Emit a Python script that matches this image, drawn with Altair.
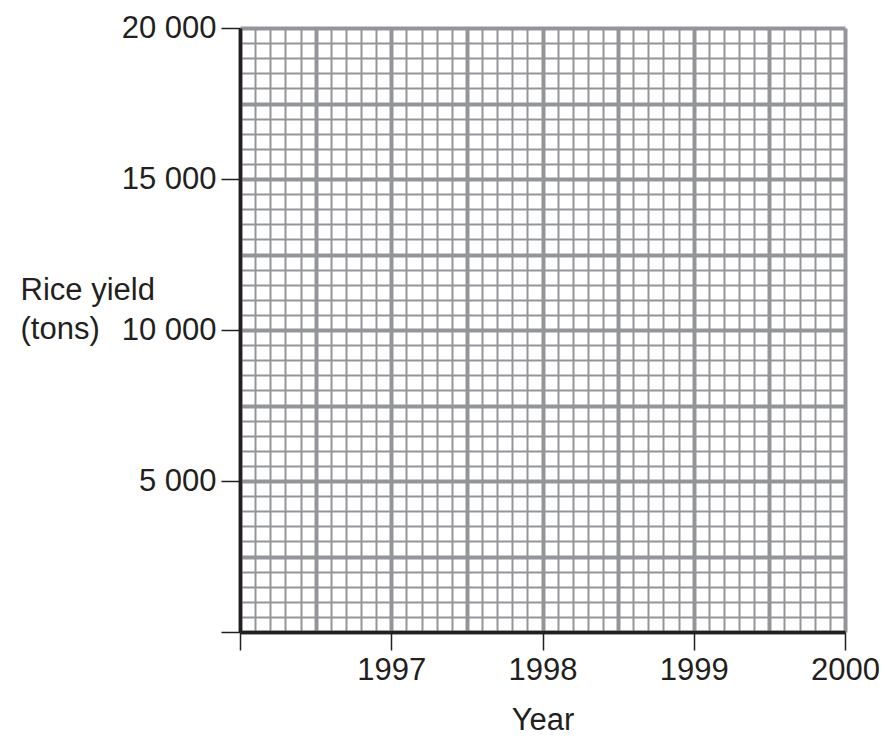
import altair as alt
import pandas as pd

# Axis content
years = [1996, 1997, 1998, 1999, 2000]
year_labels = ["", "1997", "1998", "1999", "2000"]
yield_ticks = [0, 5000, 10000, 15000, 20000]
yield_labels = ["", "5 000", "10 000", "15 000", "20 000"]

# Graph-paper grid spacing
x_minor_step = 0.1
x_major_step = 0.5
y_minor_step = 500
y_major_step = 2500

x_grid = [round(years[0] + i * x_minor_step, 1) for i in range(int((years[-1] - years[0]) / x_minor_step) + 1)]
y_grid = [i * y_minor_step for i in range(int(yield_ticks[-1] / y_minor_step) + 1)]

# empty chart: a single invisible anchor point
df = pd.DataFrame({"year": [years[0]], "rice": [yield_ticks[0]]})

FONT = "Liberation Sans"
FS = 31
INK = "#231f20"
GRID = "#939598"

x_label_map = "{" + ",".join(f"'{y}':'{l}'" for y, l in zip(years, year_labels)) + "}"
y_label_map = "{" + ",".join(f"'{v}':'{l}'" for v, l in zip(yield_ticks, yield_labels)) + "}"

x_major_test = f"abs(datum.value/{x_major_step} - round(datum.value/{x_major_step})) < 1e-6"
x_tick_test = "abs(datum.value - round(datum.value)) < 1e-6"
y_major_test = f"datum.value % {y_major_step} === 0"
y_tick_test = "datum.value % 5000 === 0"

x_axis = alt.Axis(
    values=x_grid,
    grid=True,
    gridColor=GRID,
    gridWidth={"condition": {"test": x_major_test, "value": 4}, "value": 2},
    domainColor=INK,
    domainWidth=3.5,
    tickColor=INK,
    tickWidth=1.5,
    tickSize=18,
    tickOpacity={"condition": {"test": x_tick_test, "value": 1}, "value": 0},
    labelExpr=f"{x_tick_test} ? ({x_label_map})[format(round(datum.value),'d')] : ''",
    labelFont=FONT,
    labelFontSize=FS,
    labelColor=INK,
    labelPadding=5,
    labelFlush=False,
    labelOverlap=False,
    labelBound=False,
    title="Year",
    titleFont=FONT,
    titleFontSize=FS,
    titleFontWeight="normal",
    titleColor=INK,
    titleBaseline="alphabetic",
    titleY=97,
)

y_axis = alt.Axis(
    values=y_grid,
    grid=True,
    gridColor=GRID,
    gridWidth={"condition": {"test": y_major_test, "value": 4}, "value": 2},
    domainColor=INK,
    domainWidth=3.5,
    tickColor=INK,
    tickWidth=1.5,
    tickSize=19,
    tickOpacity={"condition": {"test": y_tick_test, "value": 1}, "value": 0},
    labelExpr=f"{y_tick_test} ? ({y_label_map})[format(datum.value,'d')] : ''",
    labelFont=FONT,
    labelFontSize=FS,
    labelColor=INK,
    labelPadding=5,
    labelOverlap=False,
    labelBound=False,
    title=["Rice yield", "(tons)"],
    titleFont=FONT,
    titleFontSize=FS,
    titleFontWeight="normal",
    titleColor=INK,
    titleAngle=0,
    titleAlign="left",
    titleBaseline="alphabetic",
    titleLineHeight=39,
    titleX=-220,
    titleY=271,
)

chart = (
    alt.Chart(df)
    .mark_point(opacity=0)
    .encode(
        x=alt.X("year:Q", scale=alt.Scale(domain=[years[0], years[-1]], nice=False, zero=False), axis=x_axis),
        y=alt.Y("rice:Q", scale=alt.Scale(domain=[yield_ticks[0], yield_ticks[-1]], nice=False), axis=y_axis),
    )
    .properties(
        width=605,
        height=604,
        autosize=alt.AutoSizeParams(type="none"),
        padding={"left": 232, "top": 20, "right": 34, "bottom": 101},
        background="white",
    )
    .configure_view(strokeWidth=0)
)

chart.save("out.html", embed_options={"renderer": "svg", "actions": False})
